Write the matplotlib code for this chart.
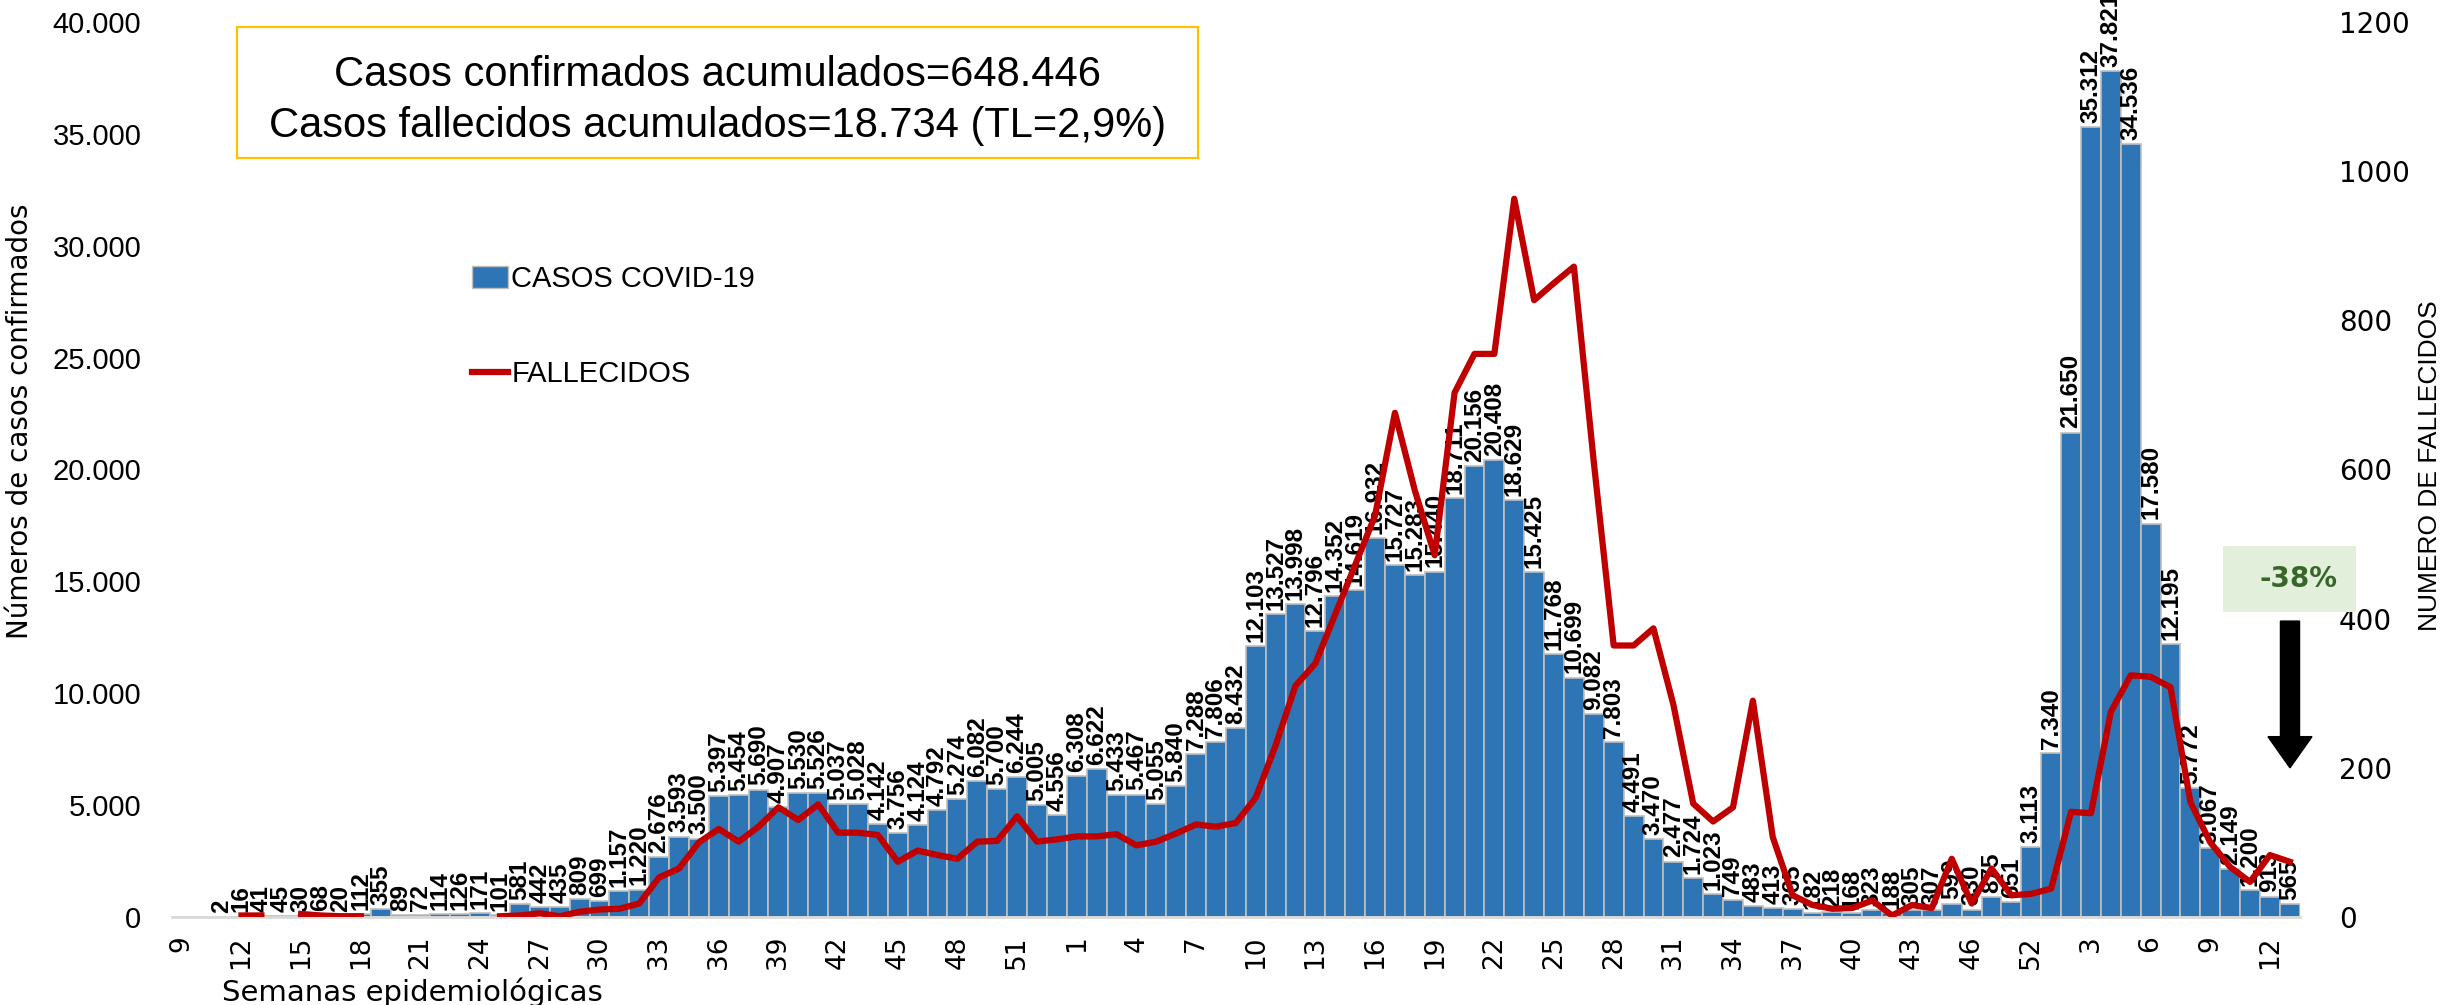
import numpy as np
import matplotlib
matplotlib.use("Agg")
import matplotlib.pyplot as plt
from matplotlib import font_manager
from matplotlib.patches import Rectangle, FancyArrow, Patch
from matplotlib.lines import Line2D

# Semanas epidemiologicas (2020: 9-53, 2021: 1-48 y 52, 2022: 1-13)
semanas_2020 = list(range(9, 54))
semanas_2021 = list(range(1, 49)) + [52]
semanas_2022 = list(range(1, 14))

casos_2020 = [0, 0, 2, 16, 41, 45, 30, 68, 20, 112, 355, 89, 72, 114, 126, 171, 101,
              581, 442, 435, 809, 699, 1157, 1220, 2676, 3593, 3500, 5397, 5454, 5690,
              4907, 5530, 5526, 5037, 5028, 4142, 3756, 4124, 4792, 5274, 6082, 5700,
              6244, 5005, 4556]
casos_2021 = [6308, 6622, 5433, 5467, 5055, 5840, 7288, 7806, 8432, 12103, 13527, 13998,
              12796, 14352, 14619, 16932, 15727, 15283, 15440, 18711, 20156, 20408, 18629,
              15425, 11768, 10699, 9082, 7803, 4491, 3470, 2477, 1724, 1023, 749, 483, 413,
              365, 182, 218, 168, 323, 188, 305, 307, 599, 330, 875, 651, 3113]
casos_2022 = [7340, 21650, 35312, 37821, 34536, 17580, 12195, 5772, 3067, 2149, 1200, 913, 565]

nan = np.nan
fallecidos_2020 = [nan, nan, nan, 2, 2, nan, 4, 2, 1, 1, nan, nan, nan, nan, nan, nan,
                   1, 2, 5, 1, 7, 10, 11, 18, 53, 65, 100, 118, 101, 121, 147, 130, 151,
                   113, 113, 110, 74, 89, 83, 78, 101, 102, 135, 101, 104]
fallecidos_2021 = [108, 108, 111, 96, 101, 112, 124, 121, 126, 160, 230, 310, 340, 406, 472,
                   538, 676, 572, 485, 703, 755, 755, 963, 827, 850, 872, 610, 364, 364, 387,
                   285, 152, 128, 147, 290, 107, 29, 16, 11, 12, 22, 2, 16, 12, 78, 18, 65,
                   29, 31]
fallecidos_2022 = [38, 141, 139, 275, 324, 322, 308, 154, 100, 67, 47, 83, 74]

semanas = semanas_2020 + semanas_2021 + semanas_2022
casos = casos_2020 + casos_2021 + casos_2022
fallecidos = fallecidos_2020 + fallecidos_2021 + fallecidos_2022
x = np.arange(len(semanas))

# fuentes
disponibles = {f.name for f in font_manager.fontManager.ttflist}
narrow = 'Liberation Sans Narrow' if 'Liberation Sans Narrow' in disponibles else 'Liberation Sans'
arial = 'Liberation Sans'

AZUL = '#2E75B6'
ROJO = '#C00000'


def miles(v):
    return f"{v:,}".replace(",", ".")


fig = plt.figure(figsize=(24.45, 10.05), dpi=100)
ax = fig.add_axes([0.0703, 0.0876, 0.8703, 0.8905])

barras = ax.bar(x, casos, width=1.0, color=AZUL, edgecolor='#BFBFBF', linewidth=1.2, zorder=2)
etiquetas = [miles(v) if v > 0 else '' for v in casos]
ax.bar_label(barras, labels=etiquetas, rotation=90, padding=3, fontsize=17.5,
             fontweight='bold', family=arial)

ax.set_xlim(-0.5, len(semanas) - 0.5)
ax.set_ylim(0, 40000)
ax.set_yticks(np.arange(0, 40001, 5000))
ax.set_yticklabels([miles(v) for v in range(0, 40001, 5000)], family=narrow, fontsize=21)
ax.tick_params(axis='y', length=0, pad=22)
ax.set_xticks(x[::3])
ax.set_xticklabels([str(s) for s in semanas[::3]], rotation=90, fontsize=19)
ax.tick_params(axis='x', length=0, pad=13)
for s in ['top', 'left', 'right']:
    ax.spines[s].set_visible(False)
ax.spines['bottom'].set_color('#D9D9D9')
ax.spines['bottom'].set_linewidth(2)

ax2 = ax.twinx()
ax2.plot(x, fallecidos, color=ROJO, linewidth=4.5, zorder=3)
ax2.set_ylim(0, 1200)
ax2.set_yticks(range(0, 1201, 200))
ax2.tick_params(axis='y', length=0, pad=28, labelsize=20)
for s in ['top', 'left', 'right', 'bottom']:
    ax2.spines[s].set_visible(False)

# titulos de ejes
fig.text(0.008, 0.581, 'Números de casos confirmados', rotation=90, ha='center', va='center',
         fontsize=20)
fig.text(0.994, 0.537, 'NUMERO DE FALLECIDOS', rotation=90, ha='center', va='center',
         fontsize=19, family=narrow)
fig.text(0.1685, 0.013, 'Semanas epidemiológicas', ha='center', va='center', fontsize=21)

# leyenda
handles = [Patch(facecolor=AZUL, edgecolor='#BFBFBF'),
           Line2D([0], [0], color=ROJO, linewidth=4.5)]
ax.legend(handles, ['CASOS COVID-19', 'FALLECIDOS'], loc='upper left',
          bbox_to_anchor=(0.193, 0.736), bbox_transform=fig.transFigure, frameon=False,
          prop={'family': narrow, 'size': 21}, handlelength=1.25, handleheight=0.8,
          handletextpad=0.1, labelspacing=2.3, borderpad=0, borderaxespad=0)

# cuadro de totales
fig.patches.append(Rectangle((0.0969, 0.8428), 0.393, 0.1303, transform=fig.transFigure,
                             facecolor='white', edgecolor='#FFC000', linewidth=1.6))
fig.text(0.2933, 0.9254, 'Casos confirmados acumulados=648.446', ha='center', va='center',
         fontsize=30, family=arial)
fig.text(0.2933, 0.8746, 'Casos fallecidos acumulados=18.734 (TL=2,9%)', ha='center',
         va='center', fontsize=30, family=arial)

# variacion
fig.patches.append(Rectangle((0.9092, 0.391), 0.0544, 0.0657, transform=fig.transFigure,
                             facecolor='#E2EFDA', edgecolor='none'))
fig.text(0.9399, 0.4239, '-38%', ha='center', va='center', fontsize=20, fontweight='bold',
         color='#38662A')
fig.patches.append(FancyArrow(0.9366, 0.382, 0, -0.146, width=0.0078, head_width=0.018,
                              head_length=0.031, length_includes_head=True,
                              transform=fig.transFigure, color='black'))

fig.savefig('out.png', dpi=100)
